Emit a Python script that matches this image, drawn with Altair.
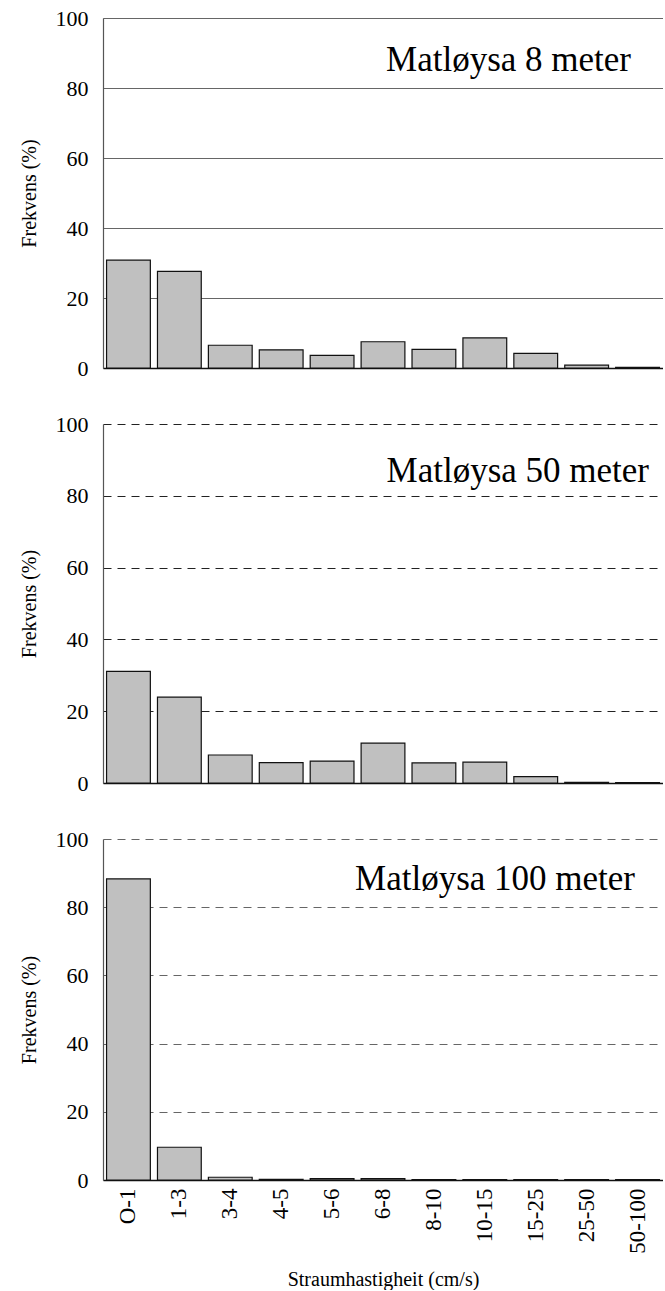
import altair as alt
import pandas as pd

categories = ["O-1", "1-3", "3-4", "4-5", "5-6", "6-8", "8-10", "10-15", "15-25", "25-50", "50-100"]
freq_8m = [30.8, 27.6, 6.5, 5.2, 3.6, 7.5, 5.3, 8.6, 4.2, 0.8, 0.2]
freq_50m = [31.1, 23.9, 7.8, 5.7, 6.1, 11.1, 5.6, 5.8, 1.8, 0.2, 0.1]
freq_100m = [88.3, 9.6, 0.8, 0.2, 0.4, 0.4, 0.1, 0.1, 0.1, 0.1, 0.1]
titles = ["Matløysa 8 meter", "Matløysa 50 meter", "Matløysa 100 meter"]
y_ticks = [0, 20, 40, 60, 80, 100]

FONT = "Liberation Serif"
W = 560


def panel(values, title, height, dash, gcolor, show_x, ty, tx):
    df = pd.DataFrame({"cat": categories, "val": values})
    if show_x:
        xaxis = alt.Axis(
            title="Straumhastigheit (cm/s)", labelAngle=-90, labelFontSize=23,
            labelFont=FONT, labelColor="black", labelPadding=8, ticks=False,
            titleFont=FONT, titleFontSize=20, titleFontWeight="normal",
            titleColor="black", titlePadding=16, domainColor="#111",
            domainWidth=1.5, grid=False, labelLimit=200,
        )
    else:
        xaxis = alt.Axis(title=None, labels=False, ticks=False, domainColor="#111",
                         domainWidth=1.5, grid=False)
    yaxis = alt.Axis(
        values=y_ticks, title="Frekvens (%)", ticks=False, labelPadding=15,
        labelFont=FONT, labelFontSize=22, labelColor="black",
        titleFont=FONT, titleFontSize=20, titleFontWeight="normal",
        titleColor="black", titlePadding=16, grid=True, gridColor=gcolor,
        gridDash=dash, gridWidth=1, domainColor="#555", domainWidth=1.2,
    )
    bars = alt.Chart(df).mark_bar(fill="#c0c0c0", stroke="#111", strokeWidth=1.2).encode(
        x=alt.X("cat:N", sort=categories,
                scale=alt.Scale(paddingInner=0.14, paddingOuter=0.07), axis=xaxis),
        y=alt.Y("val:Q", scale=alt.Scale(domain=[0, 100], nice=False), axis=yaxis),
    )
    label = alt.Chart(pd.DataFrame({"t": [title]})).mark_text(
        align="right", baseline="alphabetic", font=FONT, fontSize=35, color="black"
    ).encode(text="t:N", x=alt.value(tx), y=alt.value(ty))
    return alt.layer(bars, label).properties(width=W, height=height)


p1 = panel(freq_8m, titles[0], 350, [1, 0], "#333", False, 53, 528)
p2 = panel(freq_50m, titles[1], 359, [8, 6], "#222", False, 58, 546)
p3 = panel(freq_100m, titles[2], 341, [8, 6], "#666", True, 51, 532)

chart = (
    alt.vconcat(p1, p2, p3, spacing=56, bounds="flush")
    .resolve_scale(x="independent", y="independent")
    .resolve_axis(x="independent", y="independent")
    .properties(padding={"top": 7, "left": 19, "right": 0, "bottom": 0})
    .configure(background="white", font=FONT)
    .configure_view(stroke=None)
    .configure_axis(labelFont=FONT, titleFont=FONT)
)

chart.save("out.html", embed_options={"renderer": "svg", "actions": False})
